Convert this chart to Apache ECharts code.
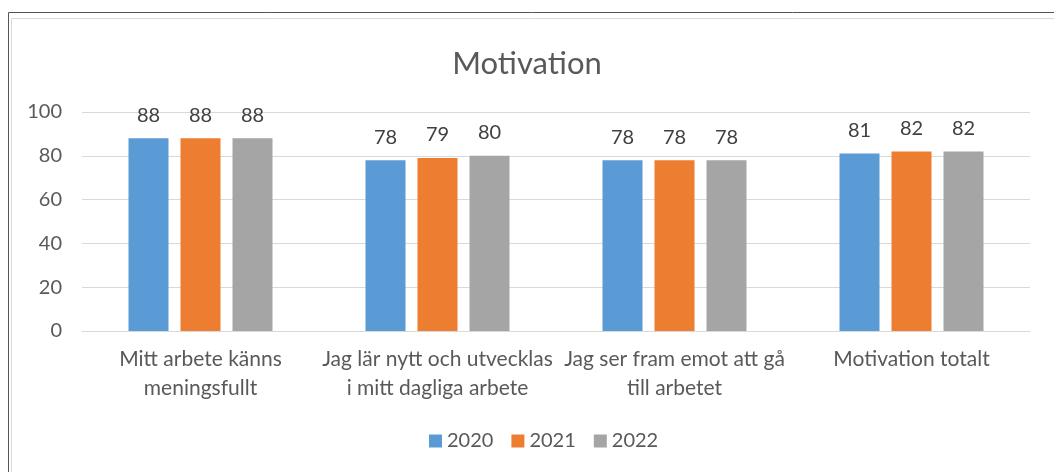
<!DOCTYPE html>
<html><head><meta charset="utf-8">
<script src="https://cdn.jsdelivr.net/npm/echarts@6/dist/echarts.min.js"></script>
<style>html,body{margin:0;padding:0;background:#fff}#c{width:1054px;height:472px}</style>
</head><body><div id="c"></div>
<script>
const categories = ["Mitt arbete känns\nmeningsfullt", "Jag lär nytt och utvecklas\ni mitt dagliga arbete", "Jag ser fram emot att gå\ntill arbetet", "Motivation totalt"];
const years = ["2020", "2021", "2022"];
const v2020 = [88, 78, 78, 81];
const v2021 = [88, 79, 78, 82];
const v2022 = [88, 80, 78, 82];
const colors = ["#5B9BD5", "#ED7D31", "#A5A5A5"];
const FONT = "Lato";
const chart = echarts.init(document.getElementById('c'));
const mk = (name, data, color) => ({
  name, type: 'bar', data, barWidth: 40, barGap: '30%',
  itemStyle: {color},
  label: {show: true, position: 'top', distance: 13, color: '#404040', fontSize: 20, fontFamily: FONT}
});
chart.setOption({
  animation: false,
  textStyle: {fontFamily: FONT},
  title: {text: 'Motivation', left: 'center', top: 43, textStyle: {fontSize: 31, fontWeight: 'normal', color: '#595959', fontFamily: FONT}},
  graphic: [
    {type: 'polyline', shape: {points: [[8.5, 472], [8.5, 12.5], [1054, 12.5]]}, style: {stroke: '#555', lineWidth: 1, fill: null}},
    {type: 'polyline', shape: {points: [[11.5, 472], [11.5, 18.5], [1054, 18.5]]}, style: {stroke: '#d9d9d9', lineWidth: 1, fill: null}}
  ],
  legend: {data: years, top: 426, left: 424, itemWidth: 13, itemHeight: 13, itemGap: 18, icon: 'rect',
    textStyle: {color: '#595959', fontSize: 20, fontFamily: FONT}},
  grid: {left: 82, right: 24, top: 112, bottom: 141, containLabel: false},
  xAxis: {type: 'category', data: categories,
    axisLine: {lineStyle: {color: '#d9d9d9'}}, axisTick: {show: false},
    axisLabel: {color: '#595959', fontSize: 21, lineHeight: 29, margin: 14, interval: 0, fontFamily: FONT}},
  yAxis: {type: 'value', min: 0, max: 100, interval: 20,
    axisLine: {show: false}, axisTick: {show: false},
    splitLine: {lineStyle: {color: '#d9d9d9'}},
    axisLabel: {color: '#595959', fontSize: 20, margin: 20, fontFamily: FONT}},
  series: [mk(years[0], v2020, colors[0]), mk(years[1], v2021, colors[1]), mk(years[2], v2022, colors[2])]
});
</script></body></html>
